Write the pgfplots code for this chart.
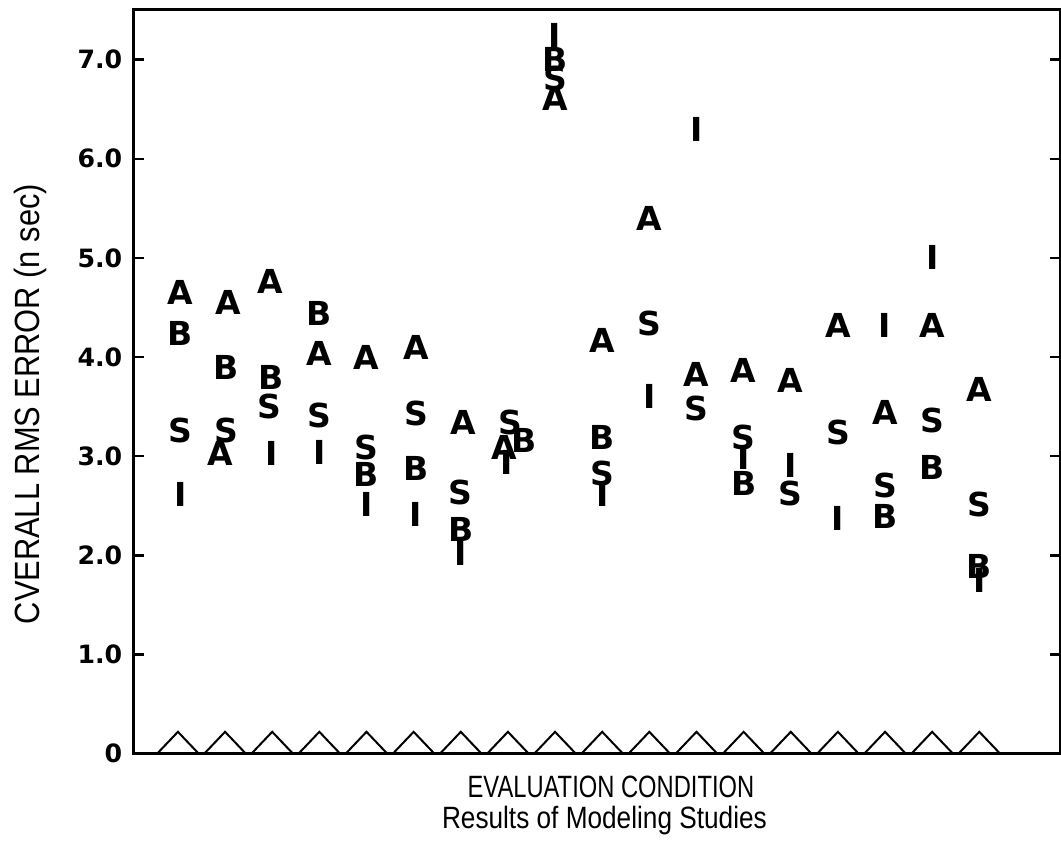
\documentclass[border=0pt]{standalone}
\usepackage{fontspec}
\setmainfont{DejaVu Sans}
\newfontfamily\condfont[FakeStretch=0.77]{Liberation Sans}
\newfontfamily\capfont[FakeStretch=0.85]{Liberation Sans}
\newfontfamily\ylabfont[FakeStretch=0.88]{Liberation Sans}
\usepackage{pgfplots}
\pgfplotsset{compat=1.18}

\begin{document}
\begin{tikzpicture}
\begin{axis}[
    name=ax,
    scale only axis,
    width=463pt, height=371.5pt,
    xmin=0.06, xmax=19.72,
    ymin=0, ymax=7.5,
    axis line style={line width=1.5pt},
    xtick=\empty,
    ytick={0,1,...,7},
    yticklabels={0,1.0,2.0,3.0,4.0,5.0,6.0,7.0},
    ytick pos=both,
    yticklabel pos=left,
    tick align=inside,
    major tick length=5pt,
    tick style={line width=1.2pt, black},
    yticklabel style={font=\fontsize{12.6}{14}\selectfont\bfseries, inner sep=0pt, xshift=-5.5pt},
    xlabel={\condfont\fontsize{15.4}{17}\selectfont EVALUATION CONDITION},
    xlabel style={at={(axis description cs:0.515,-0.0592)}, anchor=base, inner sep=0pt},
    ylabel={\ylabfont\fontsize{17.5}{19}\selectfont CVERALL RMS ERROR (n sec)},
    ylabel style={at={(axis description cs:-0.111,0.47)}, anchor=center, rotate=0, inner sep=0pt},
    clip=false,
    text mark as node=true,
]

% condition markers along the bottom
\addplot[line width=1pt, mark=none] coordinates {
    (0.56,0) (1,0.22) (1.44,0) (1.56,0) (2,0.22) (2.44,0) (2.56,0) (3,0.22) (3.44,0)
    (3.56,0) (4,0.22) (4.44,0) (4.56,0) (5,0.22) (5.44,0) (5.56,0) (6,0.22) (6.44,0)
    (6.56,0) (7,0.22) (7.44,0) (7.56,0) (8,0.22) (8.44,0) (8.56,0) (9,0.22) (9.44,0)
    (9.56,0) (10,0.22) (10.44,0) (10.56,0) (11,0.22) (11.44,0) (11.56,0) (12,0.22) (12.44,0)
    (12.56,0) (13,0.22) (13.44,0) (13.56,0) (14,0.22) (14.44,0) (14.56,0) (15,0.22) (15.44,0)
    (15.56,0) (16,0.22) (16.44,0) (16.56,0) (17,0.22) (17.44,0) (17.56,0) (18,0.22) (18.44,0)
};

\pgfplotsset{letter/.style={only marks, mark=text, text mark={#1},
    text mark style={font=\fontsize{16.5}{17}\selectfont\bfseries, inner sep=0pt}}}

\addplot[letter=A] coordinates {
    (1.05,4.65) (2.07,4.55) (1.9,3.03) (2.95,4.76) (4,4.04) (5,4.0) (6.05,4.10)
    (7.05,3.34) (7.92,3.09) (9,6.61) (10,4.17) (11,5.40) (12,3.82) (13,3.86)
    (14,3.76) (15,4.32) (16,3.44) (17,4.32) (18,3.67)
};
\addplot[letter=B] coordinates {
    (1.05,4.24) (2.03,3.89) (2.98,3.79) (4,4.44) (5,2.82) (6.05,2.88) (7,2.26)
    (8.34,3.16) (9,7.0) (10,3.19) (13,2.72) (16,2.39) (17,2.89) (18,1.89)
};
\addplot[letter=S] coordinates {
    (1.05,3.26) (2.03,3.26) (2.95,3.50) (4,3.41) (5,3.09) (6.05,3.43) (7,2.63)
    (8.06,3.34) (9,6.81) (10,2.83) (11,4.34) (12,3.48) (13,3.19) (14,2.62)
    (15,3.24) (16,2.70) (17,3.36) (18,2.51)
};
\addplot[letter=I] coordinates {
    (1.05,2.61) (2.98,3.03) (4,3.04) (5,2.51) (6.05,2.41) (7,2.02) (7.98,2.94)
    (9,7.24) (10,2.61) (11,3.60) (12,6.30) (13,2.99) (14,2.91) (15,2.37)
    (16,4.32) (17,5.0) (18,1.75)
};

\node[anchor=base, inner sep=0pt] at (axis description cs:0.508,-0.1009)
    {\capfont\fontsize{15.4}{17}\selectfont Results of Modeling Studies};
\end{axis}
\pgfresetboundingbox
\path ([shift={(-66.75pt,-51pt)}]ax.south west) rectangle ([shift={(0.3pt,5pt)}]ax.north east);
\end{tikzpicture}
\end{document}
